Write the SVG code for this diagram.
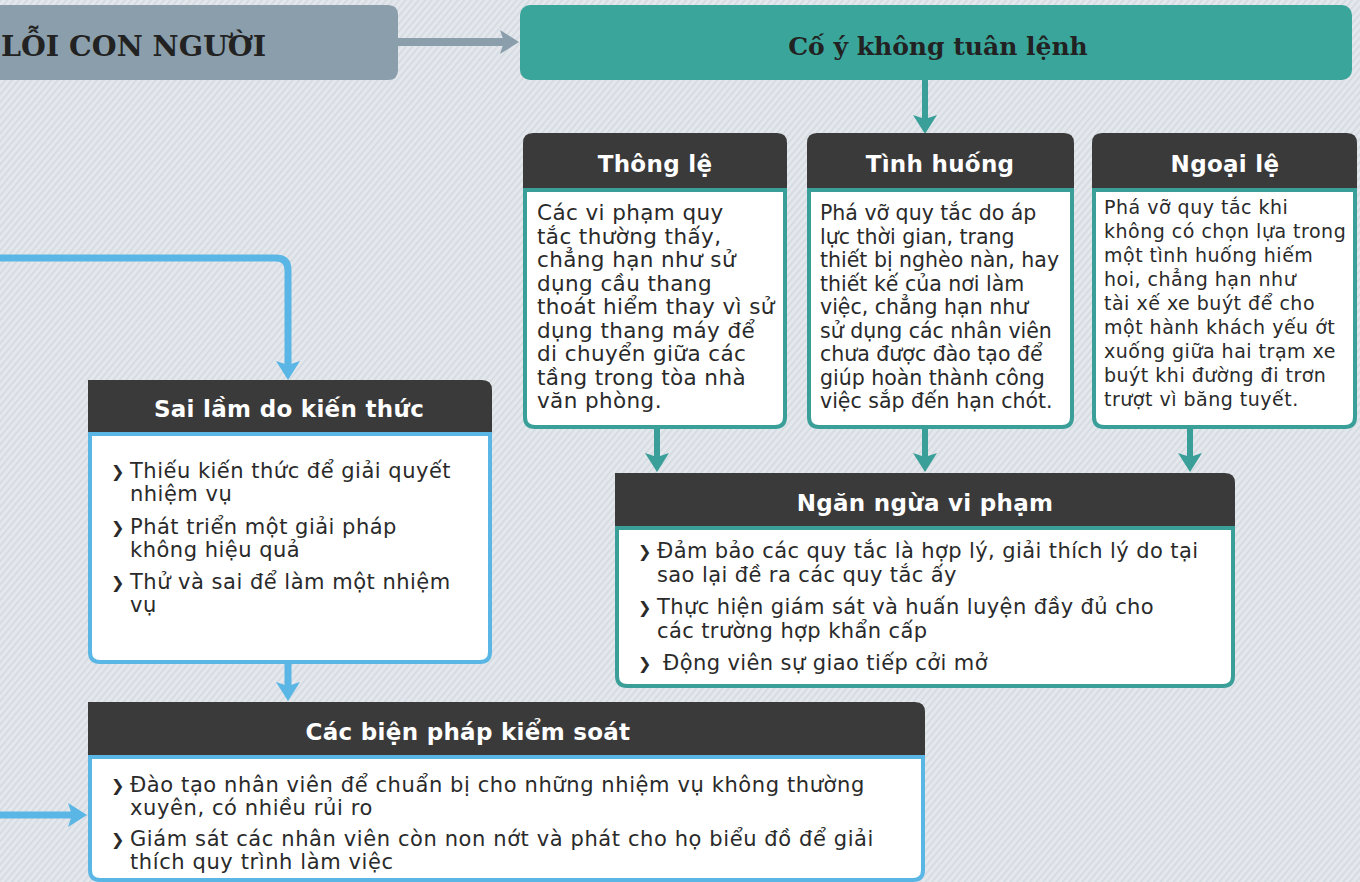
<svg xmlns="http://www.w3.org/2000/svg" xmlns:xlink="http://www.w3.org/1999/xlink" width="1360" height="882" viewBox="0 0 1360 882">
<style>
.sans{font-family:"DejaVu Sans","Noto Sans",sans-serif}
.hd{fill:#ffffff;font-weight:bold;text-anchor:middle;font-size:23px;letter-spacing:0.3px}
.body{fill:#2a2a2a}
.dark{fill:#3a3a3a}
.bodyT{fill:#ffffff;stroke:#3a9f98;stroke-width:4}
.bodyB{fill:#ffffff;stroke:#5ab6e4;stroke-width:4}
.title{font-family:"DejaVu Serif","Liberation Serif",serif;font-weight:bold;fill:#222222}
.tl{fill:none;stroke:#3a9f98;stroke-width:6}
.bl{fill:none;stroke:#5ab6e4;stroke-width:7}
.gl{fill:none;stroke:#8b9eab;stroke-width:8}
.bul{font-weight:bold;font-size:16px}
</style>
<defs>
<pattern id="hatch" width="5" height="5" patternUnits="userSpaceOnUse" patternTransform="rotate(-50)">
<rect width="5" height="5" fill="#e4e8ed"/>
<rect width="5" height="1.6" fill="#d2d9e0"/>
</pattern>
<path id="head" d="M0,0 L-19,-12 L-15,0 L-19,12 Z"/>
</defs>
<rect width="1360" height="882" fill="url(#hatch)"/>

<g id="connectors">
<line class="gl" x1="398" y1="42" x2="505" y2="42"/>
<use xlink:href="#head" fill="#8b9eab" transform="translate(519,42)"/>
<line class="tl" x1="925" y1="80" x2="925" y2="122"/>
<use xlink:href="#head" fill="#3a9f98" transform="translate(925,134) rotate(90)"/>
<line class="tl" x1="657" y1="427" x2="657" y2="460"/>
<use xlink:href="#head" fill="#3a9f98" transform="translate(657,472) rotate(90)"/>
<line class="tl" x1="925" y1="427" x2="925" y2="460"/>
<use xlink:href="#head" fill="#3a9f98" transform="translate(925,472) rotate(90)"/>
<line class="tl" x1="1190" y1="427" x2="1190" y2="460"/>
<use xlink:href="#head" fill="#3a9f98" transform="translate(1190,472) rotate(90)"/>
<path class="bl" d="M0,258 H276 Q288,258 288,270 V366"/>
<use xlink:href="#head" fill="#5ab6e4" transform="translate(288,380) rotate(90)"/>
<line class="bl" x1="288" y1="662" x2="288" y2="688"/>
<use xlink:href="#head" fill="#5ab6e4" transform="translate(288,701) rotate(90)"/>
<line class="bl" x1="0" y1="815" x2="72" y2="815"/>
<use xlink:href="#head" fill="#5ab6e4" transform="translate(87,815)"/>
</g>

<g id="node-loi">
<path d="M0,5 H388 Q398,5 398,15 V70 Q398,80 388,80 H0 Z" fill="#8b9eab"/>
<text class="title" x="1" y="56" font-size="28.5">LỖI CON NGƯỜI</text>
</g>

<g id="node-coy">
<rect x="520" y="5" width="832" height="75" rx="10" fill="#3aa69b"/>
<text class="title" x="938" y="55" font-size="25" text-anchor="middle">Cố ý không tuân lệnh</text>
</g>

<g id="node-thongle">
<path class="dark" d="M523,190 V143 Q523,133 533,133 H777 Q787,133 787,143 V190 Z"/>
<path class="bodyT" d="M525,190 H785 V417 Q785,427 775,427 H535 Q525,427 525,417 Z"/>
<text class="sans hd" x="655" y="172">Thông lệ</text>
<text class="sans body" font-size="21.5" letter-spacing="0.4">
<tspan x="537" y="220">Các vi phạm quy</tspan>
<tspan x="537" y="243.5">tắc thường thấy,</tspan>
<tspan x="537" y="267">chẳng hạn như sử</tspan>
<tspan x="537" y="290.5">dụng cầu thang</tspan>
<tspan x="537" y="314">thoát hiểm thay vì sử</tspan>
<tspan x="537" y="337.5">dụng thang máy để</tspan>
<tspan x="537" y="361">di chuyển giữa các</tspan>
<tspan x="537" y="384.5">tầng trong tòa nhà</tspan>
<tspan x="537" y="408">văn phòng.</tspan>
</text>
</g>

<g id="node-tinhhuong">
<path class="dark" d="M807,190 V143 Q807,133 817,133 H1064 Q1074,133 1074,143 V190 Z"/>
<path class="bodyT" d="M809,190 H1072 V417 Q1072,427 1062,427 H819 Q809,427 809,417 Z"/>
<text class="sans hd" x="940" y="172">Tình huống</text>
<text class="sans body" font-size="20.5">
<tspan x="820" y="220">Phá vỡ quy tắc do áp</tspan>
<tspan x="820" y="243.5">lực thời gian, trang</tspan>
<tspan x="820" y="267">thiết bị nghèo nàn, hay</tspan>
<tspan x="820" y="290.5">thiết kế của nơi làm</tspan>
<tspan x="820" y="314">việc, chẳng hạn như</tspan>
<tspan x="820" y="337.5">sử dụng các nhân viên</tspan>
<tspan x="820" y="361">chưa được đào tạo để</tspan>
<tspan x="820" y="384.5">giúp hoàn thành công</tspan>
<tspan x="820" y="408">việc sắp đến hạn chót.</tspan>
</text>
</g>

<g id="node-ngoaile">
<path class="dark" d="M1092,190 V143 Q1092,133 1102,133 H1347 Q1357,133 1357,143 V190 Z"/>
<path class="bodyT" d="M1094,190 H1355 V417 Q1355,427 1345,427 H1104 Q1094,427 1094,417 Z"/>
<text class="sans hd" x="1225" y="172">Ngoại lệ</text>
<text class="sans body" font-size="19" letter-spacing="0.5">
<tspan x="1104" y="214">Phá vỡ quy tắc khi</tspan>
<tspan x="1104" y="238">không có chọn lựa trong</tspan>
<tspan x="1104" y="262">một tình huống hiếm</tspan>
<tspan x="1104" y="286">hoi, chẳng hạn như</tspan>
<tspan x="1104" y="310">tài xế xe buýt để cho</tspan>
<tspan x="1104" y="334">một hành khách yếu ớt</tspan>
<tspan x="1104" y="358">xuống giữa hai trạm xe</tspan>
<tspan x="1104" y="382">buýt khi đường đi trơn</tspan>
<tspan x="1104" y="406">trượt vì băng tuyết.</tspan>
</text>
</g>

<g id="node-nganngua">
<path class="dark" d="M615,528 V473 H1225 Q1235,473 1235,483 V528 Z"/>
<path class="bodyT" d="M617,528 H1233 V676 Q1233,686 1223,686 H627 Q617,686 617,676 Z"/>
<text class="sans hd" x="925" y="511" letter-spacing="0.8">Ngăn ngừa vi phạm</text>
<text class="sans body bul" x="638" y="557">❯</text>
<text class="sans body bul" x="638" y="613">❯</text>
<text class="sans body bul" x="638" y="669">❯</text>
<text class="sans body" font-size="21" letter-spacing="0.4">
<tspan x="657" y="558">Đảm bảo các quy tắc là hợp lý, giải thích lý do tại</tspan>
<tspan x="657" y="582">sao lại đề ra các quy tắc ấy</tspan>
<tspan x="657" y="614">Thực hiện giám sát và huấn luyện đầy đủ cho</tspan>
<tspan x="657" y="638">các trường hợp khẩn cấp</tspan>
<tspan x="663" y="670">Động viên sự giao tiếp cởi mở</tspan>
</text>
</g>

<g id="node-sailam">
<path class="dark" d="M88,434 V380 H482 Q492,380 492,390 V434 Z"/>
<path class="bodyB" d="M90,434 H490 V652 Q490,662 480,662 H100 Q90,662 90,652 Z"/>
<text class="sans hd" x="289" y="417" letter-spacing="0.6">Sai lầm do kiến thức</text>
<text class="sans body bul" x="111" y="477">❯</text>
<text class="sans body bul" x="111" y="533">❯</text>
<text class="sans body bul" x="111" y="588">❯</text>
<text class="sans body" font-size="21" letter-spacing="0.5">
<tspan x="130" y="478">Thiếu kiến thức để giải quyết</tspan>
<tspan x="130" y="501">nhiệm vụ</tspan>
<tspan x="130" y="534">Phát triển một giải pháp</tspan>
<tspan x="130" y="557">không hiệu quả</tspan>
<tspan x="130" y="589">Thử và sai để làm một nhiệm</tspan>
<tspan x="130" y="612">vụ</tspan>
</text>
</g>

<g id="node-bienphap">
<path class="dark" d="M88,757 V702 H915 Q925,702 925,712 V757 Z"/>
<path class="bodyB" d="M90,757 H923 V870 Q923,880 913,880 H100 Q90,880 90,870 Z"/>
<text class="sans hd" x="468" y="740" letter-spacing="0.8">Các biện pháp kiểm soát</text>
<text class="sans body bul" x="111" y="791">❯</text>
<text class="sans body bul" x="111" y="845">❯</text>
<text class="sans body" font-size="21" letter-spacing="0.6">
<tspan x="130" y="792">Đào tạo nhân viên để chuẩn bị cho những nhiệm vụ không thường</tspan>
<tspan x="130" y="815">xuyên, có nhiều rủi ro</tspan>
<tspan x="130" y="846">Giám sát các nhân viên còn non nớt và phát cho họ biểu đồ để giải</tspan>
<tspan x="130" y="869">thích quy trình làm việc</tspan>
</text>
</g>
</svg>
